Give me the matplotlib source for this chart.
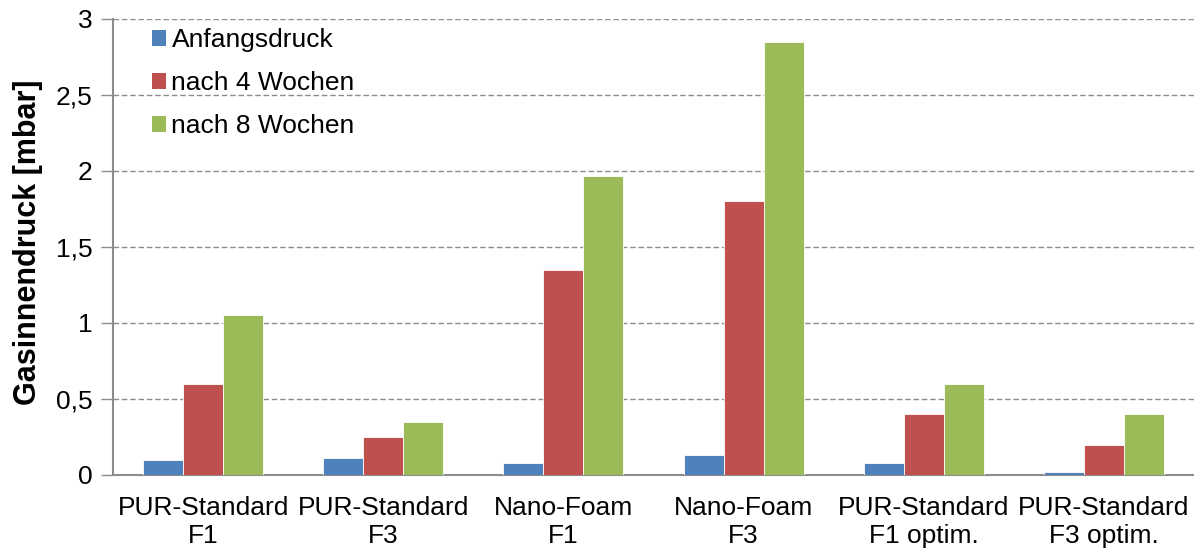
import matplotlib
matplotlib.use("Agg")
import matplotlib.pyplot as plt
import numpy as np
from matplotlib.patches import Patch
from matplotlib.ticker import FuncFormatter

plt.rcParams['font.family'] = ['Liberation Sans', 'DejaVu Sans']

categories = ["PUR-Standard\nF1", "PUR-Standard\nF3", "Nano-Foam\nF1",
              "Nano-Foam\nF3", "PUR-Standard\nF1 optim.", "PUR-Standard\nF3 optim."]
series_names = ["Anfangsdruck", "nach 4 Wochen", "nach 8 Wochen"]
anfangsdruck = [0.10, 0.11, 0.08, 0.13, 0.08, 0.02]
nach_4_wochen = [0.60, 0.25, 1.35, 1.80, 0.40, 0.20]
nach_8_wochen = [1.05, 0.35, 1.97, 2.85, 0.60, 0.40]
colors = ["#4F81BD", "#C0504D", "#9BBB59"]
y_ticks = [0, 0.5, 1, 1.5, 2, 2.5, 3]

fig = plt.figure(figsize=(11.94, 5.52), dpi=100)
ax = fig.add_axes([113 / 1194, 1 - 475 / 552, 1 - 113 / 1194, (475 - 19) / 552])

x = np.arange(len(categories))
bw = 0.222
for i, (vals, col) in enumerate(zip([anfangsdruck, nach_4_wochen, nach_8_wochen], colors)):
    ax.bar(x + (i - 1) * bw, vals, width=bw, color=col, edgecolor="white",
           linewidth=0.6, zorder=3)

ax.set_xlim(-0.5, len(categories) - 0.5)
ax.set_ylim(0, 3)
ax.set_yticks(y_ticks)
ax.yaxis.set_major_formatter(FuncFormatter(lambda v, p: f"{v:g}".replace(".", ",")))
ax.set_xticks(x)
ax.set_xticklabels(categories, fontsize=19, linespacing=1.2)
ax.tick_params(axis="x", length=0, pad=15)
ax.tick_params(axis="y", length=9, width=1, color="#8c8c8c", labelsize=19, pad=6)

ax.grid(axis="y", linestyle=(0, (4, 2)), color="#8c8c8c", linewidth=1, zorder=0)
for s in ["top", "right"]:
    ax.spines[s].set_visible(False)
for s in ["left", "bottom"]:
    ax.spines[s].set_color("#8c8c8c")
    ax.spines[s].set_linewidth(1.5)

ax.set_ylabel("Gasinnendruck [mbar]", fontsize=22, fontweight="bold", va="center")
ax.yaxis.set_label_coords(28 / 1194, 1 - 242 / 552, transform=fig.transFigure)

handles = [Patch(facecolor=c, edgecolor="none") for c in colors]
ax.legend(handles, series_names, loc="upper left", bbox_to_anchor=(0.026, 1.003),
          frameon=False, fontsize=19, handlelength=0.55, handleheight=0.55,
          handletextpad=0.2, labelspacing=0.72, borderaxespad=0)

fig.savefig("out.png", dpi=100)
